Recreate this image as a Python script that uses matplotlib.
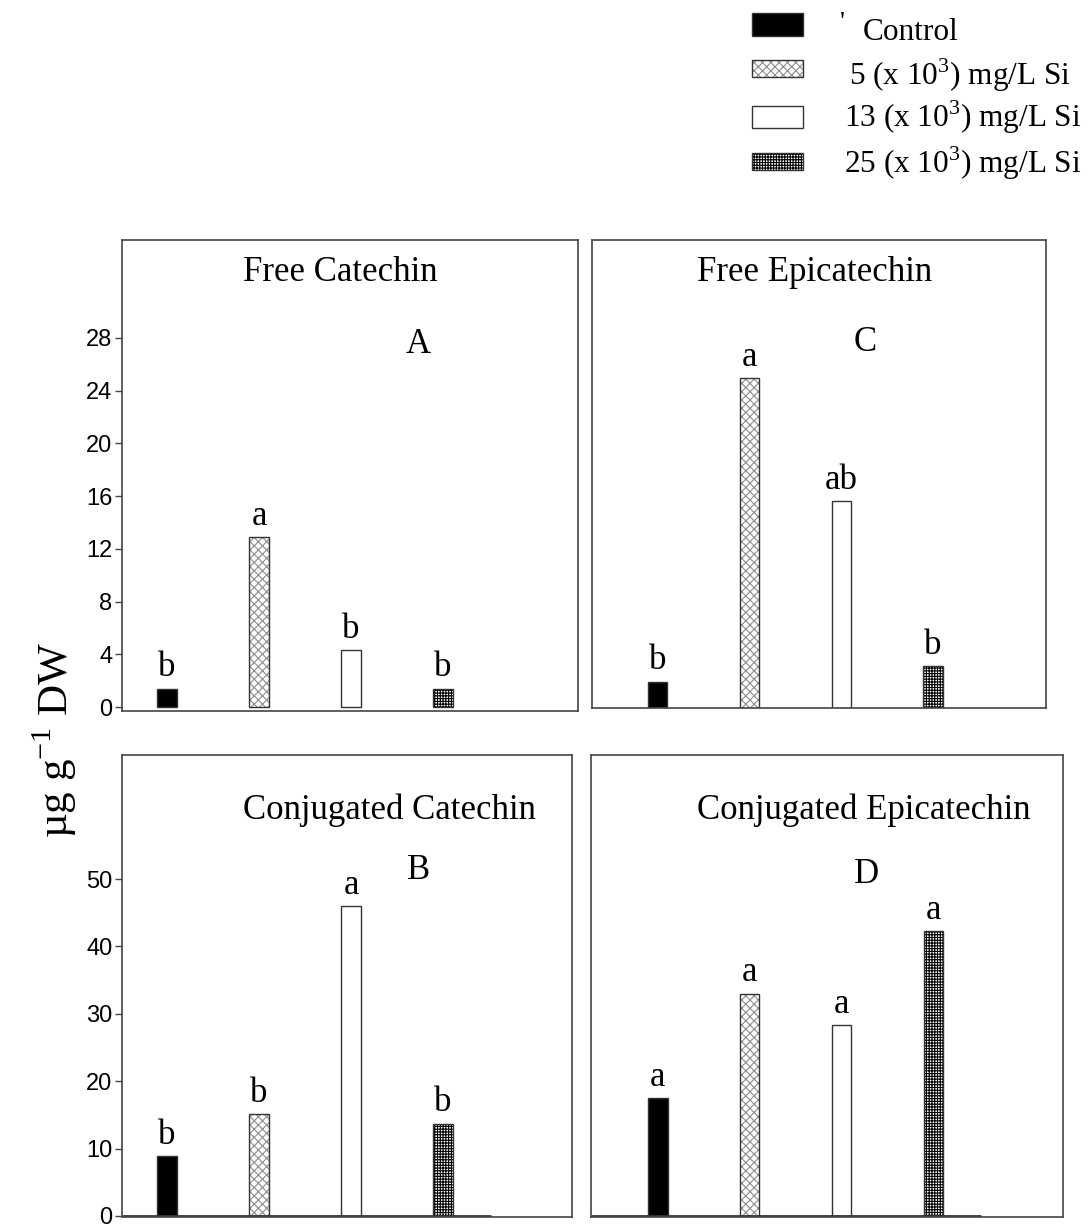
import matplotlib.pyplot as plt
from matplotlib.patches import Rectangle

plt.rcParams['font.family'] = 'Liberation Serif'
plt.rcParams['mathtext.fontset'] = 'custom'
plt.rcParams['mathtext.rm'] = 'Liberation Serif'
plt.rcParams['hatch.linewidth'] = 0.8

# ======
# [Data]
# ======
treatments = ['Control',
              '5 (x 10$^3$) mg/L Si',
              '13 (x 10$^3$) mg/L Si',
              '25 (x 10$^3$) mg/L Si']
free_catechin = [1.4, 12.9, 4.3, 1.4]
free_epicatechin = [2.0, 25.0, 15.7, 3.2]
conj_catechin = [8.9, 15.1, 46.0, 13.7]
conj_epicatechin = [17.5, 33.0, 28.3, 42.3]
letters_A = ['b', 'a', 'b', 'b']
letters_C = ['b', 'a', 'ab', 'b']
letters_B = ['b', 'b', 'a', 'b']
letters_D = ['a', 'a', 'a', 'a']

# fill style per treatment: (face, hatch, hatch colour)
STYLES = [('black', None, None),
          ('white', 'xxxx', '#8c8c8c'),
          ('white', None, None),
          ('white', '++++++', 'black')]
EDGE = '#333333'

W, H = 1089, 1228
fig = plt.figure(figsize=(W / 100, H / 100), dpi=100)


def px_axes(x0, y0, x1, y1):
    return fig.add_axes([x0 / W, 1 - y1 / H, (x1 - x0) / W, (y1 - y0) / H])


def draw_bars(ax, vals, width=0.21):
    xs = range(1, len(vals) + 1)
    for x, v, (fc, hatch, hc) in zip(xs, vals, STYLES):
        if hatch:
            ax.bar(x, v, width, color='white', edgecolor=hc, hatch=hatch, linewidth=0)
            ax.bar(x, v, width, facecolor='none', edgecolor=EDGE, linewidth=1)
        else:
            ax.bar(x, v, width, facecolor=fc, edgecolor=EDGE, linewidth=1)


panels = [
    # values, letters, title, tag, box px, xlim, ylim, title pos, tag pos, yticks
    (free_catechin, letters_A, 'Free Catechin', 'A', (122, 240, 578, 711),
     (0.511, 5.467), (-0.30, 35.43), (0.478, 0.93), (3.73, 27.5), range(0, 29, 4)),
    (free_epicatechin, letters_C, 'Free Epicatechin', 'C', (592, 240, 1046, 708),
     (0.283, 5.23), (0, 35.5), (0.49, 0.93), (3.26, 27.7), None),
    (conj_catechin, letters_B, 'Conjugated Catechin', 'B', (122, 755, 572, 1217),
     (0.511, 5.40), (-0.15, 68.4), (0.595, 0.88), (3.73, 51.2), range(0, 51, 10)),
    (conj_epicatechin, letters_D, 'Conjugated Epicatechin', 'D', (591, 755, 1063, 1217),
     (0.272, 5.41), (-0.15, 68.4), (0.578, 0.88), (3.27, 50.6), None),
]

for i, (vals, lets, title, tag, box, xl, yl, tpos, gpos, yt) in enumerate(panels):
    ax = px_axes(*box)
    draw_bars(ax, vals)
    ax.set_xlim(*xl)
    ax.set_ylim(*yl)
    for sp in ax.spines.values():
        sp.set_color('#444444')
        sp.set_linewidth(1.2)
    ax.set_xticks([])
    if yt is None:
        ax.set_yticks([])
    else:
        ax.set_yticks(list(yt))
        ax.tick_params(axis='y', direction='out', length=5, width=1, color='#444444',
                       labelsize=17, pad=2)
        for lab in ax.get_yticklabels():
            lab.set_fontfamily('Liberation Sans')
    if i >= 2:
        ax.plot([xl[0], 4.52], [0, 0], color='#333333', lw=2, solid_capstyle='butt')
    for x, v, t in zip(range(1, 5), vals, lets):
        ax.annotate(t, (x, v), xytext=(0, 3), textcoords='offset points',
                    ha='center', va='bottom', fontsize=25)
    ax.text(tpos[0], tpos[1], title, transform=ax.transAxes, ha='center',
            va='center', fontsize=25)
    ax.text(gpos[0], gpos[1], tag, ha='center', va='center', fontsize=25)

# y label
fig.text(55 / W, 1 - 740 / H, 'µg g$^{-1}$ DW', rotation=90, ha='center',
         va='center', fontsize=31)

# legend
leg_rows = [(13, 23), (60, 17), (106, 22), (153, 17)]
text_y = [33, 75, 117, 163]
text_x = [863, 849, 844, 844]
for (fc, hatch, hc), (ty, hh), lab, yy, xx in zip(STYLES, leg_rows, treatments, text_y, text_x):
    rect_xy = (752 / W, 1 - (ty + hh) / H)
    if hatch:
        fig.add_artist(Rectangle(rect_xy, 51 / W, hh / H, transform=fig.transFigure,
                                 facecolor='white', edgecolor=hc, hatch=hatch, linewidth=0))
        fig.add_artist(Rectangle(rect_xy, 51 / W, hh / H, transform=fig.transFigure,
                                 facecolor='none', edgecolor=EDGE, linewidth=1))
    else:
        fig.add_artist(Rectangle(rect_xy, 51 / W, hh / H, transform=fig.transFigure,
                                 facecolor=fc, edgecolor=EDGE, linewidth=1))
    fig.text(xx / W, 1 - yy / H, lab, ha='left', va='center', fontsize=22.5)
fig.text(842 / W, 1 - 24 / H, "'", ha='center', va='center', fontsize=20)

fig.savefig('out.png', dpi=100)
